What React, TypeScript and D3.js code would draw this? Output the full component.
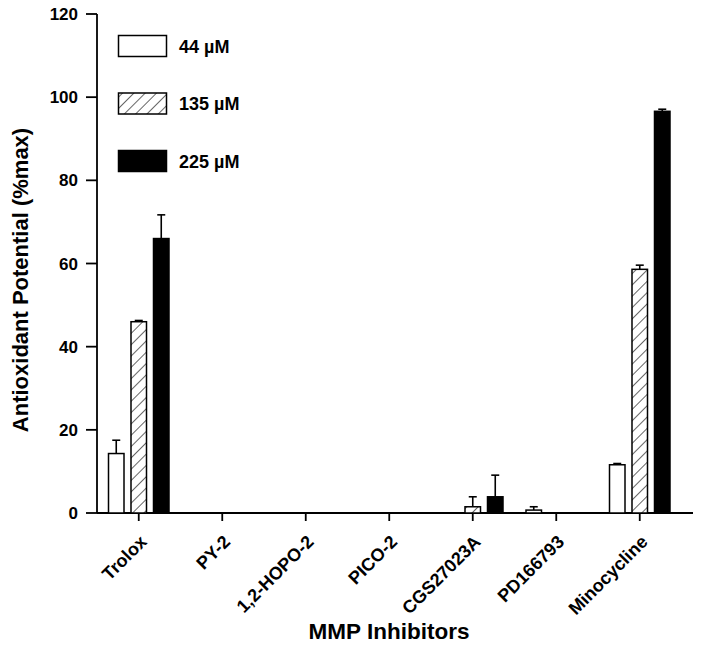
import React from "react";
import * as d3 from "d3";

const categories = ["Trolox", "PY-2", "1,2-HOPO-2", "PICO-2", "CGS27023A", "PD166793", "Minocycline"];
const seriesNames = ["44 µM", "135 µM", "225 µM"];
const values44 = [14.3, 0, 0, 0, 0, 0.7, 11.6];
const values135 = [46.0, 0, 0, 0, 1.5, 0, 58.6];
const values225 = [66.0, 0, 0, 0, 3.9, 0, 96.6];
const errors44 = [3.2, 0, 0, 0, 0, 0.8, 0.3];
const errors135 = [0.3, 0, 0, 0, 2.4, 0, 1.0];
const errors225 = [5.7, 0, 0, 0, 5.2, 0, 0.5];
const yTicks = [0, 20, 40, 60, 80, 100, 120];

const W = 701;
const H = 651;
const FONT = "'Liberation Sans', Arial, sans-serif";

export default function App() {
  const x = d3.scaleBand<string>().domain(categories).range([97, 97 + 7 * 83.5]).padding(0);
  const sub = d3.scaleBand<string>().domain(seriesNames).range([-30.25, 30.25]).paddingInner(0.311).paddingOuter(0);
  const y = d3.scaleLinear().domain([0, 120]).range([513, 14]);
  const allValues = [values44, values135, values225];
  const allErrors = [errors44, errors135, errors225];
  const fills = ["#fff", "url(#hatch)", "#000"];
  const bw = sub.bandwidth();

  const bars: React.ReactNode[] = [];
  categories.forEach((c, i) => {
    const cx = (x(c) as number) + x.bandwidth() / 2;
    seriesNames.forEach((s, j) => {
      const v = allValues[j][i];
      const e = allErrors[j][i];
      if (v <= 0) return;
      const bx = cx + (sub(s) as number);
      const mid = bx + bw / 2;
      bars.push(
        <g key={`${c}-${s}`}>
          {e > 0 && (
            <g stroke="#000" strokeWidth={1.6}>
              <line x1={mid} x2={mid} y1={y(v)} y2={y(v + e)} />
              <line x1={mid - 4} x2={mid + 4} y1={y(v + e)} y2={y(v + e)} />
            </g>
          )}
          <rect x={bx} y={y(v)} width={bw} height={y(0) - y(v)} fill={fills[j]} stroke="#000" strokeWidth={1.5} />
        </g>
      );
    });
  });

  const legendY = [46, 103.5, 161];

  return (
    <svg width={W} height={H} style={{ position: "absolute", left: 0, top: 0, background: "#fff" }} fontFamily={FONT}>
      <defs>
        <pattern id="hatch" patternUnits="userSpaceOnUse" width={8} height={8} patternTransform="rotate(45)">
          <rect width={8} height={8} fill="#fff" />
          <line x1={0} y1={0} x2={0} y2={8} stroke="#000" strokeWidth={1.2} />
        </pattern>
      </defs>
      <rect width={W} height={H} fill="#fff" />
      {/* y axis */}
      <line x1={97} x2={97} y1={y(120)} y2={y(0)} stroke="#000" strokeWidth={1.8} />
      {yTicks.map((t) => (
        <g key={t}>
          <line x1={86} x2={97} y1={y(t)} y2={y(t)} stroke="#000" strokeWidth={1.8} />
          <text x={78} y={y(t)} dy="0.36em" textAnchor="end" fontSize={17} fontWeight="bold">
            {t}
          </text>
        </g>
      ))}
      {/* x axis */}
      <line x1={97} x2={693} y1={y(0)} y2={y(0)} stroke="#000" strokeWidth={1.8} />
      {categories.map((c) => {
        const cx = (x(c) as number) + x.bandwidth() / 2;
        return (
          <g key={c}>
            <line x1={cx} x2={cx} y1={y(0)} y2={y(0) + 8} stroke="#000" strokeWidth={1.8} />
            <g transform={`translate(${cx + 9},${y(0) + 30}) rotate(-45)`}>
              <text x={0} y={0} textAnchor="end" fontSize={18} fontWeight="bold">
                {c}
              </text>
            </g>
          </g>
        );
      })}
      {bars}
      {/* legend */}
      {seriesNames.map((s, j) => (
        <g key={s}>
          <rect x={118.5} y={legendY[j] - 10.5} width={48} height={21} fill={fills[j]} stroke="#000" strokeWidth={1.5} />
          <text x={179} y={legendY[j]} dy="0.38em" fontSize={18} fontWeight="bold">
            {s}
          </text>
        </g>
      ))}
      {/* axis titles */}
      <text x={389} y={639} textAnchor="middle" fontSize={22.5} fontWeight="bold">
        MMP Inhibitors
      </text>
      <text transform={`translate(28,280) rotate(-90)`} textAnchor="middle" fontSize={22} fontWeight="bold">
        Antioxidant Potential (%max)
      </text>
    </svg>
  );
}
